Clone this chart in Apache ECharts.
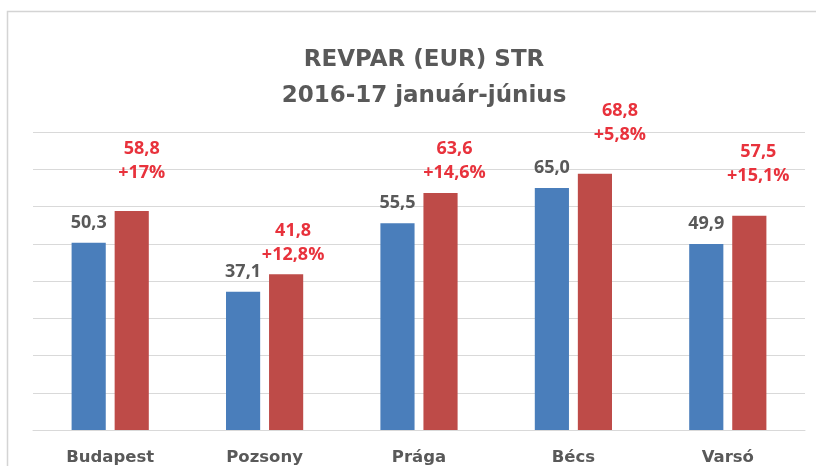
<!DOCTYPE html>
<html lang="hu">

<head>
    <meta charset="UTF-8">
    <style>
        html, body { margin: 0; padding: 0; background: #fff; }
        #main { width: 816px; height: 466px; }
    </style>
    <title>REVPAR</title>
</head>

<body>
    <div id="main"></div>

    <script src="https://cdn.jsdelivr.net/npm/echarts@6/dist/echarts.min.js"></script>
    <script>
        // adatok
        var categories = ['Budapest', 'Pozsony', 'Prága', 'Bécs', 'Varsó'];
        var revpar2016 = [50.3, 37.1, 55.5, 65.0, 49.9];
        var revpar2017 = [58.8, 41.8, 63.6, 68.8, 57.5];
        var changeLabels = ['+17%', '+12,8%', '+14,6%', '+5,8%', '+15,1%'];

        // kézzel elhelyezett piros címkék eltolása (px)
        var redLabelShift = [[10, -19], [7, 0], [14, -1], [25, -20], [9, -21]];

        function fmt(v) {
            return v.toFixed(1).replace('.', ',');
        }

        var myChart = echarts.init(document.getElementById('main'));

        var option = {
            backgroundColor: '#fff',
            animation: false,
            title: {
                text: 'REVPAR (EUR) STR\n2016-17 január-június',
                left: 419,
                top: 37,
                textAlign: 'center',
                textStyle: {
                    fontFamily: 'DejaVu Sans',
                    fontWeight: 'bold',
                    fontSize: 23,
                    lineHeight: 36,
                    color: '#595959'
                }
            },
            graphic: [{
                type: 'rect',
                silent: true,
                shape: { x: 7.5, y: 11.5, width: 900, height: 600 },
                style: { fill: 'none', stroke: '#d4d4d4', lineWidth: 1.5 }
            }],
            grid: {
                left: 33,
                right: 11,
                top: 132,
                bottom: 36
            },
            xAxis: {
                type: 'category',
                data: categories,
                axisTick: { show: false },
                axisLine: { lineStyle: { color: '#d9d9d9' } },
                axisLabel: {
                    margin: 19,
                    fontFamily: 'DejaVu Sans',
                    fontWeight: 'bold',
                    fontSize: 16.5,
                    color: '#595959'
                }
            },
            yAxis: {
                type: 'value',
                min: 0,
                max: 80,
                interval: 10,
                axisLabel: { show: false },
                axisLine: { show: false },
                axisTick: { show: false },
                splitLine: { lineStyle: { color: '#d9d9d9' } }
            },
            series: [{
                    name: '2016',
                    type: 'bar',
                    data: revpar2016,
                    barGap: '26%',
                    barCategoryGap: '50%',
                    itemStyle: { color: '#4a7ebb' },
                    label: {
                        show: true,
                        position: 'top',
                        distance: 11,
                        fontFamily: 'Open Sans',
                        fontWeight: 'bold',
                        fontSize: 18,
                        color: '#595959',
                        formatter: function (p) { return fmt(p.value); }
                    }
                },
                {
                    name: '2017',
                    type: 'bar',
                    data: revpar2017.map(function (v, i) {
                        return {
                            value: v,
                            label: { offset: redLabelShift[i] }
                        };
                    }),
                    barGap: '26%',
                    barCategoryGap: '50%',
                    itemStyle: { color: '#be4b48' },
                    label: {
                        show: true,
                        position: 'top',
                        distance: 7,
                        fontFamily: 'Open Sans',
                        fontWeight: 'bold',
                        fontSize: 18,
                        lineHeight: 24,
                        color: '#e8323c',
                        formatter: function (p) {
                            return fmt(p.value) + '\n' + changeLabels[p.dataIndex];
                        }
                    }
                }
            ]
        };

        myChart.setOption(option);
    </script>
</body>

</html>
